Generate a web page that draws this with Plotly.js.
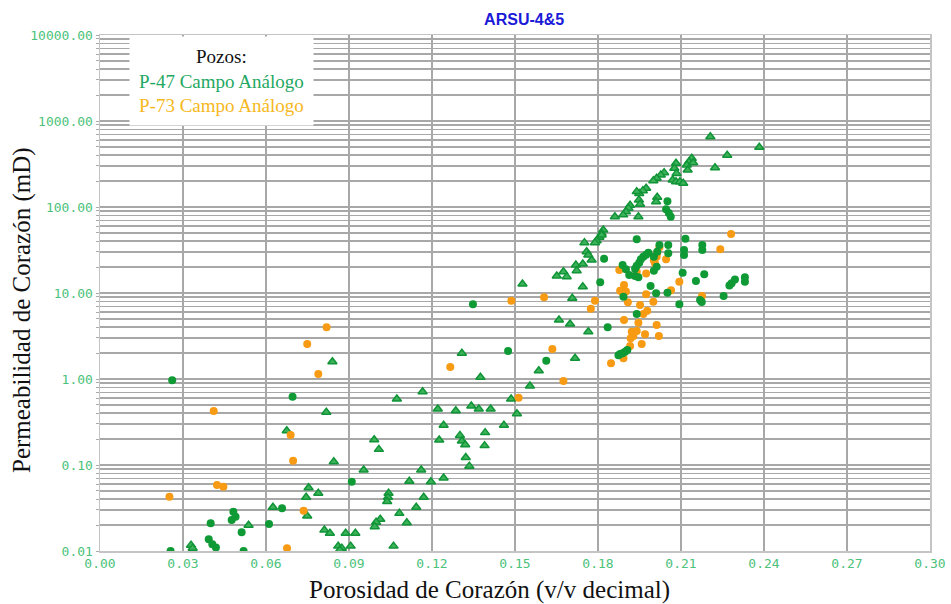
<!DOCTYPE html>
<html>
<head>
<meta charset="utf-8">
<script src="https://cdn.plot.ly/plotly-3.0.1.min.js"></script>
<style>html,body{margin:0;padding:0;background:#fff;}#chart{width:951px;height:604px;}</style>
</head>
<body>
<div id="chart"></div>
<script>
// P-47 Campo Análogo — circles
const p47CircX = [0.0261,0.0696,0.0658,0.0482,0.049,0.0476,0.04,0.0611,0.0512,0.0393,0.0406,0.0419,0.0255,0.0519,0.091,
  0.1348,0.1475,0.1613,0.2051,0.2046,0.2056,0.2063,0.194,0.2116,0.2022,0.2054,0.2177,0.2177,0.2111,0.2111,0.1822,
  0.1982,0.1974,0.1964,0.1955,0.1949,0.194,0.1934,0.2054,0.2014,0.2002,0.2002,0.2012,0.1889,0.1901,0.1913,0.1934,0.1946,
  0.2106,0.2184,0.2154,0.1808,0.199,0.2283,0.2275,0.2295,0.2331,0.2331,0.201,0.2051,0.1892,0.2169,0.2175,0.2254,0.2094,
  0.194,0.1835,0.1906,0.1898,0.1889,0.188,0.1874];
const p47CircY = [0.97,0.62,0.0314,0.0286,0.025,0.0229,0.021,0.0206,0.0165,0.0137,0.012,0.011,0.01,0.01,0.064,
  7.39,2.12,1.63,117,94,85,77,42.1,42.8,36.2,36.2,36.2,31.6,31.6,27.7,25.1,
  29.4,27.9,26.4,24.7,22.5,20.8,19.2,29.0,30.2,26.4,18.2,20.2,21.2,18.9,16.2,15.8,15.2,
  17.2,16.5,13.8,13.3,12.1,13.0,12.2,14.4,15.2,13.5,9.93,10.1,9.06,8.3,7.86,9.23,7.39,
  5.7,4.0,2.17,2.08,1.99,1.95,1.89];

// P-47 Campo Análogo — triangles
const p47TriX = [0.084,0.0818,0.0675,0.0845,0.0754,0.0789,0.0745,0.0749,0.0625,0.0537,0.0811,0.0831,0.0329,0.0335,
  0.1527,0.1659,0.1308,0.1586,0.1375,0.1554,0.1166,0.1073,0.1486,0.1221,0.1286,0.1342,0.1369,0.1412,0.1507,0.146,0.1242,
  0.1392,0.1301,0.1308,0.132,0.1226,0.139,0.0991,0.1008,0.1322,0.1335,0.0953,0.1161,0.1242,0.1118,0.1196,0.1043,0.1041,
  0.1038,0.117,0.1143,0.1082,0.1109,0.1013,0.0998,0.0993,0.0888,0.0923,0.0861,0.0874,0.0867,0.0906,0.1061,
  0.2206,0.2383,0.2267,0.2223,0.2139,0.2129,0.2121,0.2144,0.2082,0.2076,0.2084,0.2124,0.207,0.2082,0.2096,0.2108,
  0.2039,0.2027,0.2012,0.2,0.1974,0.1962,0.1949,0.194,0.1948,0.1952,0.2014,0.201,0.1916,0.191,0.1901,0.1891,0.1861,0.1946,
  0.1819,0.1813,0.1805,0.1795,0.1789,0.1813,0.1751,0.1759,0.1777,0.1765,0.172,0.1745,0.1723,0.1675,0.1651,0.1687,0.1745,
  0.1707,0.1699,0.1765,0.1717];
const p47TriY = [1.59,0.41,0.25,0.109,0.0545,0.0469,0.0421,0.0255,0.0322,0.0199,0.0175,0.0161,0.0117,0.0108,
  12.7,4.85,1.99,1.25,1.05,0.83,0.71,0.585,0.585,0.448,0.428,0.485,0.448,0.448,0.395,0.29,0.29,
  0.238,0.221,0.19,0.172,0.195,0.168,0.197,0.152,0.122,0.097,0.0875,0.0875,0.0706,0.0646,0.064,0.0469,0.0421,
  0.0377,0.0421,0.0322,0.0274,0.0213,0.0234,0.0216,0.0192,0.0161,0.0161,0.0114,0.0108,0.0103,0.0114,0.0114,
  656,495,399,286,368,336,308,327,322,282,246,269,206,197,197,189,
  251,235,216,202,165,155,144,151,121,108,130,115,105,97,88,81,77,77,
  54,49.4,44.4,40.6,38.5,47.3,38.5,30.2,24.2,27.7,21.2,21.7,18.2,17.7,15.8,15.5,11.8,
  8.7,4.36,3.55,1.74];

// P-73 Campo Análogo — circles
const p73X = [0.0819,0.0749,0.0789,0.0411,0.0689,0.0698,0.0423,0.0446,0.0251,0.0736,0.0676,0.1487,0.1605,0.1635,0.1266,0.1513,
  0.2281,0.2242,0.2022,0.2014,0.2012,0.2006,0.2002,0.2046,0.1877,0.194,0.1974,0.2094,0.1894,0.188,0.1901,0.1889,0.2064,
  0.2176,0.1974,0.2,0.1908,0.1789,0.1774,0.1952,0.1978,0.1964,0.1894,0.1946,0.2012,0.1922,0.194,0.1928,0.1918,0.197,
  0.202,0.1958,0.1916,0.1892,0.1847,0.1675];
const p73Y = [3.99,2.55,1.14,0.424,0.223,0.112,0.0585,0.056,0.0428,0.0294,0.0108,8.14,8.9,2.23,1.38,0.607,
  48.5,32.2,34,29.4,26.4,22.2,23.8,24.7,18.5,17.7,16.9,13.5,12.4,10.6,10.4,10.1,10.8,
  9.23,9.66,7.92,7.8,8.13,6.57,7.25,6.22,5.7,4.85,4.52,4.24,3.55,3.61,3.16,2.97,3.31,
  3.16,2.55,2.42,1.74,1.52,0.95];

// axis ticks
const xTicks = [0,0.03,0.06,0.09,0.12,0.15,0.18,0.21,0.24,0.27,0.30];
const yDecades = [0.01,0.1,1,10,100,1000,10000];
const yDecadeLabels = ["0.01","0.10","1.00","10.00","100.00","1000.00","10000.00"];

const yTickVals = [], yTickText = [];
yDecades.forEach((d, i) => {
  yTickVals.push(d); yTickText.push(yDecadeLabels[i]);
  if (i < yDecades.length - 1) {
    for (let m = 2; m <= 9; m++) { yTickVals.push(+(d * m).toPrecision(3)); yTickText.push(""); }
  }
});

const green = '#0f9a35';
const orange = '#f89b14';

const traces = [
  { x: p47TriX, y: p47TriY, type: 'scatter', mode: 'markers', name: 'P-47 (triángulos)',
    marker: { symbol: 'triangle-up', size: 8, color: '#3cb35a', line: { color: '#119437', width: 1.5 } } },
  { x: p73X, y: p73Y, type: 'scatter', mode: 'markers', name: 'P-73 Campo Análogo',
    marker: { symbol: 'circle', size: 8, color: orange } },
  { x: p47CircX, y: p47CircY, type: 'scatter', mode: 'markers', name: 'P-47 Campo Análogo',
    marker: { symbol: 'circle', size: 8, color: green } }
];

const tickFont = { family: 'DejaVu Sans Mono, monospace', size: 13, color: '#4cc27a' };
const serif = 'Liberation Serif, Times New Roman, serif';

const layout = {
  width: 951, height: 604,
  margin: { l: 100, r: 21, t: 35, b: 53 },
  paper_bgcolor: '#ffffff', plot_bgcolor: '#ffffff',
  showlegend: false,
  title: { text: 'ARSU-4&5', x: 0.511, xref: 'paper', xanchor: 'center', y: 0.968, yref: 'container', yanchor: 'middle',
    font: { family: 'Liberation Sans, Arial, sans-serif', size: 16, color: '#1a1ad8', weight: 'bold' } },
  xaxis: {
    range: [0, 0.30], tickvals: xTicks, tickformat: '.2f',
    showgrid: true, gridcolor: '#a8a8a8', gridwidth: 1.5, zeroline: false,
    showline: true, linecolor: '#c4c4c4', linewidth: 1.5, mirror: true,
    ticks: '', tickfont: tickFont
  },
  yaxis: {
    type: 'log', range: [-2, 4], tickvals: yTickVals, ticktext: yTickText,
    showgrid: true, gridcolor: '#a8a8a8', gridwidth: 1.5, zeroline: false,
    showline: true, linecolor: '#c4c4c4', linewidth: 1.5, mirror: true,
    ticks: 'outside', ticklen: 3, tickcolor: '#aaaaaa', tickfont: tickFont
  },
  annotations: [
    { xref: 'paper', yref: 'paper', x: 0.469, y: -0.0756, xanchor: 'center', yanchor: 'middle',
      showarrow: false, text: 'Porosidad de Corazón (v/v decimal)',
      font: { family: serif, size: 25, color: '#111' } },
    { xref: 'paper', yref: 'paper', x: -0.094, y: 0.467, xanchor: 'center', yanchor: 'middle',
      showarrow: false, textangle: -90, text: 'Permeabilidad de Corazón (mD)',
      font: { family: serif, size: 25, color: '#111' } },
    { xref: 'paper', yref: 'paper', x: 0.146, y: 0.998, xanchor: 'center', yanchor: 'top',
      showarrow: false, align: 'center', bgcolor: '#ffffff', borderpad: 9,
      text: 'Pozos:<br><span style="color:#1fa862">P-47 Campo Análogo</span><br><span style="color:#f6b820">P-73 Campo Análogo</span>',
      font: { family: serif, size: 19, color: '#111' } }
  ]
};

Plotly.newPlot('chart', traces, layout, { displayModeBar: false, staticPlot: true });
</script>
</body>
</html>
